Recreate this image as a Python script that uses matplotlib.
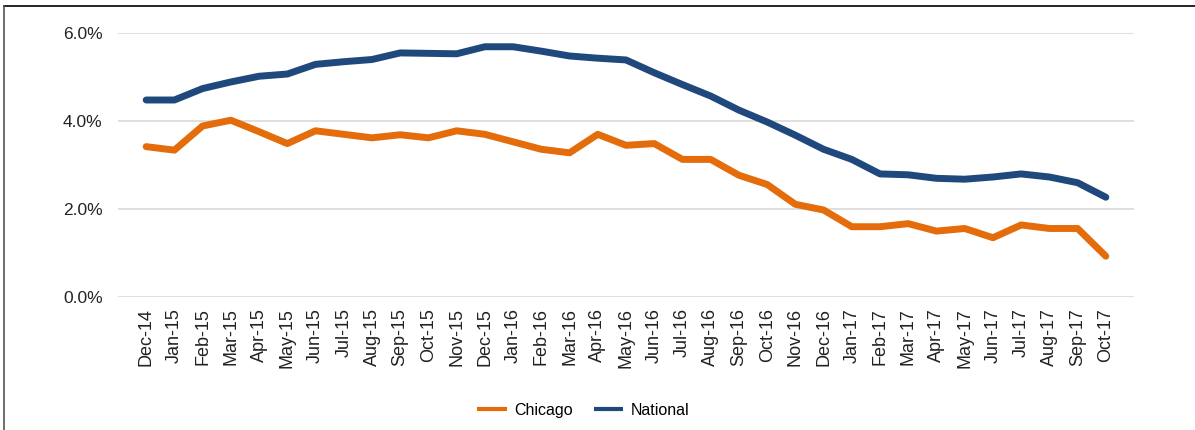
import numpy as np
import matplotlib.pyplot as plt
from matplotlib.lines import Line2D
from matplotlib.ticker import PercentFormatter

plt.rcParams['font.family'] = ['Liberation Sans', 'DejaVu Sans']

# Monate Dez 2014 bis Okt 2017
months = ['Dec-14', 'Jan-15', 'Feb-15', 'Mar-15', 'Apr-15', 'May-15', 'Jun-15',
          'Jul-15', 'Aug-15', 'Sep-15', 'Oct-15', 'Nov-15', 'Dec-15', 'Jan-16',
          'Feb-16', 'Mar-16', 'Apr-16', 'May-16', 'Jun-16', 'Jul-16', 'Aug-16',
          'Sep-16', 'Oct-16', 'Nov-16', 'Dec-16', 'Jan-17', 'Feb-17', 'Mar-17',
          'Apr-17', 'May-17', 'Jun-17', 'Jul-17', 'Aug-17', 'Sep-17', 'Oct-17']

# Werte in Prozent
chicago = [3.42, 3.34, 3.89, 4.02, 3.76, 3.49, 3.78, 3.70, 3.62, 3.69, 3.62,
           3.78, 3.70, 3.53, 3.36, 3.28, 3.70, 3.45, 3.49, 3.13, 3.13, 2.77,
           2.56, 2.11, 1.98, 1.60, 1.60, 1.67, 1.50, 1.56, 1.35, 1.64, 1.56,
           1.56, 0.93]
national = [4.48, 4.48, 4.74, 4.89, 5.02, 5.07, 5.29, 5.35, 5.40, 5.55, 5.54,
            5.53, 5.69, 5.69, 5.59, 5.48, 5.43, 5.39, 5.10, 4.83, 4.57, 4.25,
            3.98, 3.68, 3.36, 3.13, 2.80, 2.78, 2.70, 2.68, 2.73, 2.80, 2.73,
            2.60, 2.27]

fig = plt.figure(figsize=(11.95, 4.3), dpi=100)
ax = fig.add_axes([0.0987, 0.309, 0.8503, 0.614])

x = np.arange(len(months))
ax.plot(x, chicago, color='#E46C0A', linewidth=5, solid_capstyle='round',
        solid_joinstyle='round', label='Chicago')
ax.plot(x, national, color='#1F497D', linewidth=5, solid_capstyle='round',
        solid_joinstyle='round', label='National')

ax.set_xlim(-1, len(months))
ax.set_ylim(0, 6)
ax.set_yticks([0, 2, 4, 6])
ax.yaxis.set_major_formatter(PercentFormatter(decimals=1))
ax.set_xticks(x)
ax.set_xticklabels(months, rotation=90)
ax.tick_params(axis='both', length=0, colors='#222222')
ax.tick_params(axis='y', pad=11, labelsize=12.5)
ax.tick_params(axis='x', pad=8, labelsize=13)

ax.grid(axis='y', color='#D9D9D9', linewidth=1.2)
ax.set_axisbelow(True)
for s in ax.spines.values():
    s.set_visible(False)

leg = fig.legend(loc='center', bbox_to_anchor=(0.488, 0.046), ncol=2, frameon=False,
                 fontsize=11.5, handlelength=1.85, columnspacing=1.3, handletextpad=0.45)
for h in leg.get_lines():
    h.set_linewidth(3)
    h.set_solid_capstyle('butt')

# Rahmen oben und links
fig.add_artist(Line2D([4 / 1195, 1], [1 - 6 / 430, 1 - 6 / 430], color='black', linewidth=1.2))
fig.add_artist(Line2D([4 / 1195, 4 / 1195], [0, 1 - 6 / 430], color='#555555', linewidth=1.2))

fig.savefig('out.png', dpi=100)
